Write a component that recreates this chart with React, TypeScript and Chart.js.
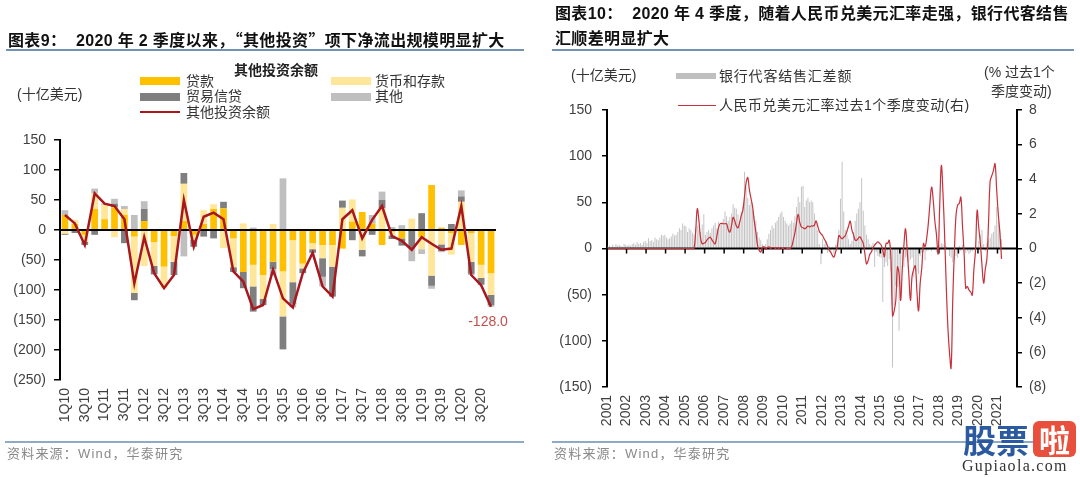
import React, { useEffect, useRef } from 'react';
import { Chart, registerables } from 'chart.js';

Chart.register(...registerables);

// ---------------- 图表9 data (十亿美元) ----------------
const quarterLabels = [
  '1Q10', '2Q10', '3Q10', '4Q10', '1Q11', '2Q11', '3Q11', '4Q11',
  '1Q12', '2Q12', '3Q12', '4Q12', '1Q13', '2Q13', '3Q13', '4Q13',
  '1Q14', '2Q14', '3Q14', '4Q14', '1Q15', '2Q15', '3Q15', '4Q15',
  '1Q16', '2Q16', '3Q16', '4Q16', '1Q17', '2Q17', '3Q17', '4Q17',
  '1Q18', '2Q18', '3Q18', '4Q18', '1Q19', '2Q19', '3Q19', '4Q19',
  '1Q20', '2Q20', '3Q20', '4Q20',
];
const loans = [
  25, 10, -8, 35, 18, 38, 25, -11, 15, -20, -61, -10, 15, -8, 10, 35,
  36, -14, -70, -58, -75, -53, -69, -17, -56, -22, -25, -25, -31, 14, 30, 11,
  -25, -3, -14, 0, -12, 75, 4, -5, -25, -5, -58, -72,
];
const currencyDeposits = [
  -6, 7, -12, 26, 24, -12, 10, -94, -60, -40, -36, -43, 62, -8, 23, 8,
  -30, -48, 11, -36, -40, 10, -75, -70, -8, -10, -22, -36, 37, 37, -33, 0,
  36, -6, 0, 19, -20, -76, -24, -36, 47, -48, -22, -36,
];
const tradeCredit = [
  -2, -5, -5, -8, 0, 6, -22, -12, 20, -14, 0, -22, 18, -12, -11, -14,
  11, -8, -27, -42, -10, -12, -55, -36, -8, -6, -31, -50, 12, -17, -11, -8,
  14, -6, -12, -30, 28, -17, -11, 10, 9, -20, -11, -17,
];
const otherItems = [
  8, 0, 0, 8, 2, 8, 5, 25, 13, 0, 0, 0, -44, 0, 0, 0,
  0, 0, 0, 4, 0, -11, 86, -6, 0, 0, -16, 0, 0, 0, 0, 14,
  14, 5, 8, -22, -8, -5, -2, 0, 10, -2, -1, -3,
];
const otherInvestmentTotal = [
  25, 11, -25, 61, 44, 40, 18, -89, -12, -72, -97, -75, 50, -28, 22, 29,
  18, -69, -86, -132, -125, -66, -114, -129, -72, -38, -94, -111, 18, 33, -14, 17,
  40, -10, -18, -33, -12, -23, -33, -31, 40, -75, -92, -128,
];

// ---------------- 图表10 data (monthly, Jan 2001 - Mar 2021) ----------------
const yearLabels = [
  '2001', '2002', '2003', '2004', '2005', '2006', '2007', '2008', '2009', '2010',
  '2011', '2012', '2013', '2014', '2015', '2016', '2017', '2018', '2019', '2020', '2021',
];
// 银行代客结售汇差额 (十亿美元)
const settlementBalance = [
  2, 3, 2, 4, 2, 5, 3, 4, 3, 2, 5, 4, // 2001
  3, 4, 3, 5, 6, 4, 7, 5, 6, 4, 7, 8, // 2002
  6, 11, 8, 9, 7, 12, 10, 9, 12, 15, 14, 15, // 2003
  12, 10, 11, 13, 16, 14, 15, 18, 22, 20, 27, 25, // 2004
  24, 18, 22, 20, 17, 15, 22, 25, 20, 18, 26, 37, // 2005
  15, 18, 20, 17, 22, 25, 28, 22, 29, 26, 28, 32, // 2006
  40, 35, 30, 34, 38, 48, 44, 43, 37, 30, 40, 45, // 2007
  83, 67, 55, 47, 50, 42, 35, 30, 18, 12, 9, 5, // 2008
  2, 5, 10, 16, 20, 25, 22, 28, 30, 34, 38, 40, // 2009
  34, 30, 27, 25, 27, 30, 28, 35, 45, 56, 50, 67, // 2010
  68, 45, 52, 55, 50, 52, 50, 38, 30, 20, 5, -17, // 2011
  10, 5, 8, -5, 3, -3, 2, -6, 4, 5, 20, 54, // 2012
  94, 40, 20, 15, 10, 5, 8, 18, 30, 38, 43, 50, // 2013
  76, 41, 25, 15, 10, 5, 3, 6, -20, -4, -8, -9, // 2014
  -10, -58, -20, -15, -19, -12, -25, -129, -62, -40, -42, -89, // 2015
  -45, -13, -20, -10, -8, -15, -12, -10, -31, -20, -25, -28, // 2016
  -8, -5, -4, -13, -3, -2, -1, -3, 2, -2, -4, -3, // 2017
  4, 6, 5, 3, 2, 1, -8, -10, -15, -12, -8, -10, // 2018
  3, -3, 4, -2, -5, -3, -6, -4, -3, -2, 3, 2, // 2019
  8, 15, 20, 5, -3, 6, 10, 12, 16, 18, 25, 45, // 2020
  30, 20, 10, // 2021
];
// 人民币兑美元汇率过去1个季度变动 (%)
const rmbQuarterChange = [
  0, 0, 0, 0, 0, 0, 0, 0, 0, 0, 0, 0, // 2001
  0, 0, 0, 0, 0, 0, 0, 0, 0, 0, 0, 0, // 2002
  0, 0, 0, 0, 0, 0, 0, 0, 0, 0, 0, 0, // 2003
  0, 0, 0, 0, 0, 0, 0, 0, 0, 0, 0, 0, // 2004
  0, 0, 0, 0, 0, 0, 1.0, 2.3, 1.6, 0.6, 0.27, 0.3, // 2005
  0.35, 0.5, 0.6, 0.65, 0.5, 0.35, 0.27, 0.7, 1.2, 1.43, 1.45, 1.43, // 2006
  1.43, 1.43, 1.1, 0.95, 1.3, 1.8, 1.6, 1.3, 1.2, 1.5, 1.9, 2.2, // 2007
  3.0, 3.8, 4.1, 3.4, 2.9, 2.4, 1.6, 0.95, 0.2, -0.1, -0.2, 0.05, // 2008
  0.1, -0.05, 0.05, 0.1, 0, 0.05, 0.05, 0, 0.05, 0, 0.05, 0, // 2009
  0, 0.05, 0, 0, 0, 0.1, 0.5, 0.9, 1.5, 1.97, 1.5, 1.24, // 2010
  1.2, 1.14, 1.2, 1.3, 1.25, 1.3, 1.3, 1.35, 1.6, 1.3, 1.0, 0.85, // 2011
  0.75, 0.55, 0.39, 0.15, -0.1, -0.21, -0.4, -0.5, -0.2, 0.1, 0.75, 0.65, // 2012
  0.56, 0.65, 0.75, 1.0, 1.3, 1.58, 1.07, 0.8, 0.5, 0.48, 0.6, 0.67, // 2013
  0.5, 0.3, -0.3, -0.89, -0.7, -0.35, -0.2, 0.05, 0.2, 0.3, 0.39, 0.3, // 2014
  0.2, -0.1, -0.48, 0.3, 0.3, 0.48, -0.5, -3.88, -3.6, -3.0, -1.07, -1.45, // 2015
  -3.0, -1.2, 0.2, 1.14, -0.1, -1.5, -3.0, -1.6, -1.2, -1.0, -2.5, -3.6, // 2016
  -2.0, -1.1, 0.29, 0.1, 0.6, 1.45, 2.6, 3.55, 2.8, 1.6, 0.8, -0.3, // 2017
  2.5, 4.8, 3.2, 0.8, -2.1, -4.5, -6.0, -6.9, -3.0, -0.2, 1.9, 2.5, // 2018
  2.6, 2.97, 1.3, -0.3, -2.3, -2.2, -2.4, -2.5, -2.7, -1.2, -0.1, 2.2, // 2019
  1.2, 0.29, -1.0, -2.0, -1.2, -0.6, 1.5, 3.9, 4.2, 4.5, 4.9, 3.4, // 2020
  2.0, 0.9, -0.6, // 2021
];

const SANS = '"Liberation Sans", Arial, "Noto Sans CJK SC", sans-serif';
const CJK = '"Noto Sans CJK SC", "Liberation Sans", sans-serif';
const AXIS_FONT = '"Liberation Sans", Arial, sans-serif';

const monthX = (i: number) => 2001 + (i + 0.5) / 12;
const paren = (v: number) => (v < 0 ? `(${-v})` : `${v}`);

function Txt(props: {
  x: number; cy: number; size?: number; bold?: boolean; color?: string;
  ls?: number; font?: string; children: any;
}) {
  const size = props.size ?? 14;
  const h = Math.round(size * 1.5);
  return (
    <div
      style={{
        position: 'absolute', left: props.x, top: props.cy - h / 2, height: h,
        lineHeight: h + 'px', fontSize: size, fontWeight: props.bold ? 700 : 400,
        color: props.color ?? '#333', letterSpacing: props.ls ?? 0,
        fontFamily: props.font ?? SANS, whiteSpace: 'pre',
      }}
    >
      {props.children}
    </div>
  );
}

function Box(props: { x: number; y: number; w: number; h: number; c: string; r?: number; children?: any }) {
  return (
    <div
      style={{
        position: 'absolute', left: props.x, top: props.y, width: props.w, height: props.h,
        background: props.c, borderRadius: props.r ?? 0,
      }}
    >
      {props.children}
    </div>
  );
}

function zeroLinePlugin(withYearTicks: boolean) {
  return {
    id: 'zeroLine',
    beforeDatasetDraw(chart: any, args: any) {
      if (args.meta.type !== 'line') return;
      const { ctx, chartArea, scales } = chart;
      const y0 = scales.y.getPixelForValue(0);
      ctx.save();
      ctx.strokeStyle = '#000';
      ctx.lineWidth = 2;
      ctx.beginPath();
      ctx.moveTo(chartArea.left, y0);
      ctx.lineTo(chartArea.right, y0);
      ctx.stroke();
      if (withYearTicks) {
        ctx.lineWidth = 1.5;
        for (let k = 1; k < yearLabels.length; k++) {
          const x = scales.x.getPixelForValue(Number(yearLabels[k]));
          ctx.beginPath();
          ctx.moveTo(x, y0);
          ctx.lineTo(x, y0 + 5);
          ctx.stroke();
        }
      }
      ctx.restore();
    },
  };
}

const lastValueLabel = {
  id: 'lastValueLabel',
  afterDatasetsDraw(chart: any) {
    const meta = chart.getDatasetMeta(0);
    const pts = meta.data;
    const p = pts[pts.length - 1];
    const v = otherInvestmentTotal[otherInvestmentTotal.length - 1];
    const { ctx } = chart;
    ctx.save();
    ctx.font = `14px ${AXIS_FONT}`;
    ctx.fillStyle = '#C0504D';
    ctx.textAlign = 'center';
    ctx.textBaseline = 'middle';
    ctx.fillText(v.toFixed(1), p.x - 3, p.y + 15);
    ctx.restore();
  },
};

export default function App() {
  const leftRef = useRef<HTMLCanvasElement>(null);
  const rightRef = useRef<HTMLCanvasElement>(null);

  useEffect(() => {
    const tickFont = { family: AXIS_FONT, size: 14 };
    const yGrid = { display: true, drawOnChartArea: false, drawTicks: true, tickLength: 6, color: '#000', lineWidth: 1.5 };

    const left = new Chart(leftRef.current as HTMLCanvasElement, {
      type: 'bar',
      data: {
        labels: quarterLabels,
        datasets: [
          {
            type: 'line', label: '其他投资余额', data: otherInvestmentTotal,
            borderColor: '#A8161E', backgroundColor: '#A8161E', borderWidth: 2.5,
            pointRadius: 0, tension: 0, order: 0,
          } as any,
          { type: 'bar', label: '贷款', data: loans, backgroundColor: '#FFC000', stack: 's', order: 1 },
          { type: 'bar', label: '货币和存款', data: currencyDeposits, backgroundColor: '#FFE699', stack: 's', order: 1 },
          { type: 'bar', label: '贸易信贷', data: tradeCredit, backgroundColor: '#7F7F7F', stack: 's', order: 1 },
          { type: 'bar', label: '其他', data: otherItems, backgroundColor: '#BFBFBF', stack: 's', order: 1 },
        ],
      },
      options: {
        responsive: false,
        animation: false,
        devicePixelRatio: 1,
        layout: { padding: { top: 140, right: 44, left: 0, bottom: 0 }, autoPadding: false },
        plugins: { legend: { display: false }, tooltip: { enabled: false }, title: { display: false } },
        datasets: { bar: { barPercentage: 0.68, categoryPercentage: 1, borderWidth: 0 } },
        scales: {
          x: {
            stacked: true,
            grid: { display: false, drawTicks: false },
            border: { display: false },
            ticks: {
              autoSkip: false, maxRotation: 90, minRotation: 90, padding: 8,
              color: '#404040', font: tickFont,
              callback: (_v: any, i: number) => (i % 2 === 0 ? quarterLabels[i] : ''),
            },
            afterFit: (s: any) => { s.height = 97; },
          },
          y: {
            stacked: true, min: -250, max: 150,
            grid: yGrid as any,
            border: { display: true, color: '#000', width: 2 },
            ticks: { stepSize: 50, padding: 8, color: '#404040', font: tickFont, callback: (v: any) => paren(Number(v)) },
            afterFit: (s: any) => { s.width = 60; },
          },
        },
      } as any,
      plugins: [zeroLinePlugin(false), lastValueLabel] as any,
    });

    const right = new Chart(rightRef.current as HTMLCanvasElement, {
      type: 'bar',
      data: {
        datasets: [
          {
            type: 'line', label: '人民币兑美元汇率过去1个季度变动(右)',
            data: rmbQuarterChange.map((v, i) => ({ x: monthX(i), y: v })),
            yAxisID: 'y1', borderColor: '#C8303A', backgroundColor: '#C8303A', borderWidth: 1.2,
            pointRadius: 0, tension: 0.4, order: 0,
          } as any,
          {
            type: 'bar', label: '银行代客结售汇差额',
            data: settlementBalance.map((v, i) => ({ x: monthX(i), y: v })),
            yAxisID: 'y', backgroundColor: '#C4C4C4', barPercentage: 0.62, categoryPercentage: 1,
            borderWidth: 0, order: 1,
          } as any,
        ],
      },
      options: {
        responsive: false,
        animation: false,
        devicePixelRatio: 1,
        layout: { padding: { top: 110, right: 0, left: 0, bottom: 0 }, autoPadding: false },
        plugins: { legend: { display: false }, tooltip: { enabled: false }, title: { display: false } },
        scales: {
          x: {
            type: 'linear', min: 2001, max: 2022, offset: false,
            grid: { display: false, drawTicks: false },
            border: { display: false },
            ticks: {
              stepSize: 1, autoSkip: false, includeBounds: false, maxRotation: 90, minRotation: 90,
              padding: 8, color: '#404040', font: tickFont,
              callback: (v: any) => yearLabels[Number(v) - 2001] ?? '',
            },
            afterFit: (s: any) => { s.height = 90; },
          },
          y: {
            position: 'left', min: -150, max: 150,
            grid: { ...yGrid, tickLength: 5 } as any,
            border: { display: true, color: '#000', width: 2 },
            ticks: { stepSize: 50, padding: 10, color: '#404040', font: tickFont, callback: (v: any) => paren(Number(v)) },
            afterFit: (s: any) => { s.width = 67; },
          },
          y1: {
            position: 'right', min: -8, max: 8,
            grid: { ...yGrid, tickLength: 5 } as any,
            border: { display: true, color: '#000', width: 2 },
            ticks: { stepSize: 2, padding: 7, color: '#404040', font: tickFont, callback: (v: any) => paren(Number(v)) },
            afterFit: (s: any) => { s.width = 63; },
          },
        },
      } as any,
      plugins: [zeroLinePlugin(true)] as any,
    });

    return () => {
      left.destroy();
      right.destroy();
    };
  }, []);

  const q = (ch: string) => <span style={{ fontFamily: CJK }}>{ch}</span>;

  return (
    <div style={{ position: 'absolute', left: 0, top: 0, width: 1080, height: 477, background: '#fff', overflow: 'hidden' }}>
      <canvas ref={leftRef} width={540} height={477} style={{ position: 'absolute', left: 0, top: 0 }} />
      <canvas ref={rightRef} width={540} height={477} style={{ position: 'absolute', left: 540, top: 0 }} />

      {/* ---------- left chart texts ---------- */}
      <Txt x={8} cy={39} size={16} bold color="#111" ls={0.35}>
        图表9：  2020 年 2 季度以来，{q('“')}其他投资{q('”')}项下净流出规模明显扩大
      </Txt>
      <Box x={6} y={49} w={518} h={2} c="#7391B0" />

      <Txt x={234} cy={70.5} size={14} bold color="#222">其他投资余额</Txt>
      <Box x={140} y={77} w={40} h={8} c="#FFC000" />
      <Txt x={186} cy={81} size={14} color="#333">贷款</Txt>
      <Box x={331} y={77} w={40} h={8} c="#FFE699" />
      <Txt x={375} cy={81} size={14} color="#333">货币和存款</Txt>
      <Box x={140} y={93} w={40} h={8} c="#7F7F7F" />
      <Txt x={186} cy={96.5} size={14} color="#333">贸易信贷</Txt>
      <Box x={331} y={93} w={40} h={8} c="#BFBFBF" />
      <Txt x={375} cy={96.5} size={14} color="#333">其他</Txt>
      <Box x={140} y={110.5} w={40} h={2.5} c="#A8161E" />
      <Txt x={186} cy={112} size={14} color="#333">其他投资余额</Txt>
      <Txt x={17} cy={94} size={14} color="#333">(十亿美元)</Txt>

      <Box x={5} y={441} w={519} h={1.5} c="#8FAAC6" />
      <Txt x={7} cy={453.5} size={13} ls={1.2} color="#8a8a8a">资料来源：Wind，华泰研究</Txt>

      {/* ---------- right chart texts ---------- */}
      <Txt x={555} cy={13.5} size={16} bold color="#111" ls={0.35}>
        图表10：  2020 年 4 季度，随着人民币兑美元汇率走强，银行代客结售
      </Txt>
      <Txt x={555} cy={38.5} size={16} bold color="#111" ls={0.35}>汇顺差明显扩大</Txt>
      <Box x={552} y={49} w={522} h={2} c="#7391B0" />

      <Txt x={571} cy={75} size={14} color="#333">(十亿美元)</Txt>
      <Box x={676} y={73} w={40} h={6} c="#BFBFBF" />
      <Txt x={719} cy={76} size={14} ls={0.8} color="#333">银行代客结售汇差额</Txt>
      <Box x={678} y={104.5} w={38} h={1.3} c="#C8303A" />
      <Txt x={719} cy={105} size={14} ls={0.5} color="#333">人民币兑美元汇率过去1个季度变动(右)</Txt>
      <Txt x={984} cy={72} size={14} color="#333">(% 过去1个</Txt>
      <Txt x={991} cy={91} size={14} color="#333">季度变动)</Txt>

      <Box x={552} y={441} w={522} h={1.5} c="#8FAAC6" />
      <Txt x={554} cy={453.5} size={13} ls={1.2} color="#8a8a8a">资料来源：Wind，华泰研究</Txt>

      {/* ---------- watermark ---------- */}
      <Txt x={963} cy={439} size={33} bold font={CJK} color="#2C5AA0">股票</Txt>
      <Box x={1033} y={421} w={43} h={36} c="#E8503D" r={6}>
        <div style={{ position: 'absolute', left: 0, top: 0, width: 43, height: 36, lineHeight: '36px', textAlign: 'center', color: '#fff', fontSize: 31, fontWeight: 700, fontFamily: CJK }}>啦</div>
      </Box>
      <Txt x={962} cy={466} size={16} ls={1.3} font='"Liberation Serif", serif' color="#333">Gupiaola.com</Txt>
    </div>
  );
}
